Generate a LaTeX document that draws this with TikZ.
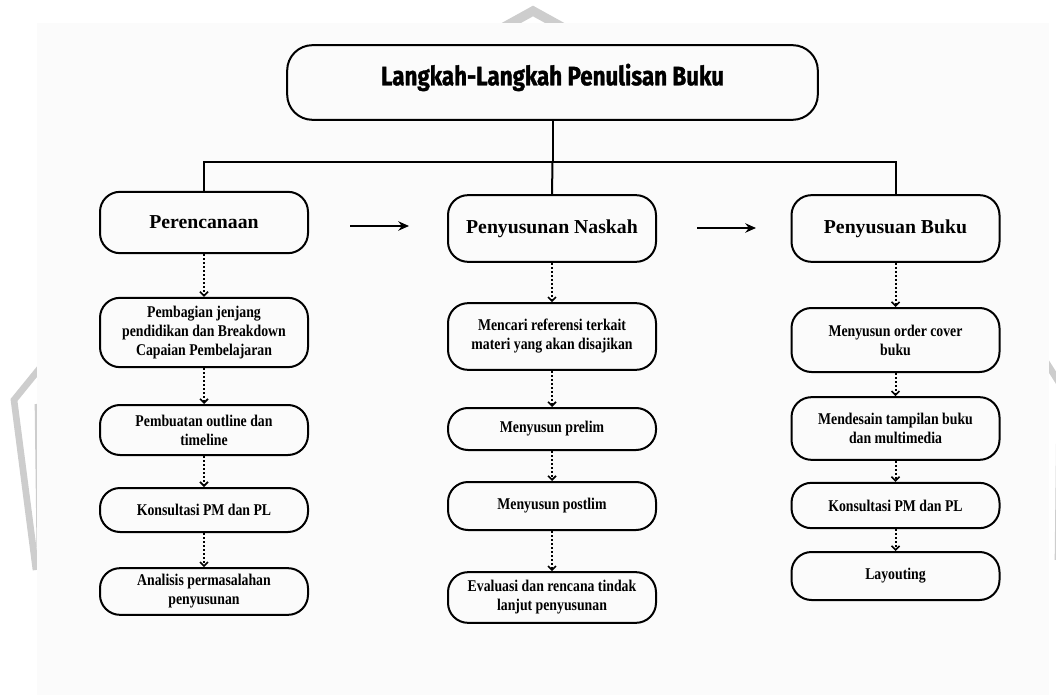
\documentclass[tikz,border=0pt]{standalone}
\usepackage{fontspec}
\setmainfont{Liberation Serif}
\newfontfamily\titlefont[FakeStretch=0.84,FakeBold=1.2]{Fira Sans}
\newfontfamily\stepfont[FakeStretch=0.84]{Liberation Serif}
\usetikzlibrary{arrows.meta}

\definecolor{panelgray}{RGB}{251,251,251}
\definecolor{markgray}{RGB}{205,205,205}

\tikzset{every picture/.style={line width=0.75pt}}
\tikzset{
  stepbox/.style={draw, line width=1.5pt, rounded corners=15pt, minimum width=156pt,
    align=center, inner sep=2pt, font=\stepfont\bfseries\fontsize{12.3}{14.3}\selectfont},
  headbox/.style={stepbox, font=\bfseries\fontsize{14.8}{18}\selectfont},
  dotarrow/.style={line width=1.5pt, dash pattern=on 1.5pt off 1.5pt,
    -{Straight Barb[length=3pt,width=6pt,line width=1.2pt]}},
  flowarrow/.style={line width=1.5pt, -{Stealth[length=8pt,width=7pt]}},
}

\begin{document}
\begin{tikzpicture}[x=0.75pt,y=0.75pt,yscale=-1,xscale=1]
	\clip (0,0) rectangle (1056,695);

	%Watermark [faint logo behind the panel]
	\draw [markgray, line width=7pt, line join=miter] (495,32) -- (533,11) -- (571,32) ;
	\draw [markgray, line width=5pt] (40,368) -- (14,400) -- (36,570) ;
	\draw [markgray, line width=2pt] (36,404) -- (38,560) ;
	\draw [markgray, line width=5pt] (1046,362) -- (1060,384) -- (1058,560) ;
	%Shape: Rectangle [panel]
	\fill [panelgray] (37,23) rectangle (1049,695) ;

	% Title
	\node [draw, line width=1.5pt, rounded corners=19pt, minimum width=398pt, minimum height=56pt,
	  text depth=12pt, font=\titlefont\bfseries\fontsize{20}{22}\selectfont]
	  (title) at (552.5,82.5) {Langkah-Langkah Penulisan Buku};

	% Stage nodes
	\node [headbox, minimum height=46pt] (plan) at (204,222.5) {Perencanaan};
	\node [headbox, minimum height=50pt] (naskah) at (552,228.5) {Penyusunan Naskah};
	\node [headbox, minimum height=50pt] (buku) at (895.5,228.5) {Penyusuan Buku};

	% Perencanaan steps
	\node [stepbox, minimum height=52pt] (planA) at (204,332.5) {Pembagian jenjang\\pendidikan dan Breakdown\\Capaian Pembelajaran};
	\node [stepbox, minimum height=37.5pt] (planB) at (204,430) {Pembuatan outline dan\\timeline};
	\node [stepbox, minimum height=33pt] (planC) at (204,510) {Konsultasi PM dan PL};
	\node [stepbox, minimum height=35pt] (planD) at (204,591.5) {Analisis permasalahan\\penyusunan};

	% Penyusunan Naskah steps
	\node [stepbox, minimum height=50pt] (naskahA) at (552,336.5) {Mencari referensi terkait\\materi yang akan disajikan};
	\node [stepbox, minimum height=31.5pt] (naskahB) at (552,429) {Menyusun prelim};
	\node [stepbox, minimum height=36pt] (naskahC) at (552,506) {Menyusun postlim};
	\node [stepbox, minimum height=38pt] (naskahD) at (552,597.5) {Evaluasi dan rencana tindak\\lanjut penyusunan};

	% Penyusuan Buku steps
	\node [stepbox, minimum height=48pt] (bukuA) at (895.5,340) {Menyusun order cover\\buku};
	\node [stepbox, minimum height=47pt] (bukuB) at (895.5,428.5) {Mendesain tampilan buku\\dan multimedia};
	\node [stepbox, minimum height=34pt] (bukuC) at (895.5,505.5) {Konsultasi PM dan PL};
	\node [stepbox, minimum height=36pt] (bukuD) at (895.5,576) {Layouting};

	%Straight Lines [tree]
	\coordinate (bar) at (552.5,162) ;
	\draw [line width=1.5pt] (title.south) -- (bar) ;
	\draw [line width=1.5pt] (plan.north) |- (bar) -| (buku.north) ;
	\draw [line width=1.5pt] (bar) -- (naskah.north) ;

	%Straight Lines [flow arrows]
	\coordinate (flowA) at (350,226) ;
	\coordinate (flowB) at (409,226) ;
	\coordinate (flowC) at (697,228) ;
	\coordinate (flowD) at (756,228) ;
	\draw [flowarrow] (flowA) -- (flowB) ;
	\draw [flowarrow] (flowC) -- (flowD) ;

	%Dotted arrows
	\draw [dotarrow] (plan) -- (planA) ;
	\draw [dotarrow] (planA) -- (planB) ;
	\draw [dotarrow] (planB) -- (planC) ;
	\draw [dotarrow] (planC) -- (planD) ;
	\draw [dotarrow] (naskah) -- (naskahA) ;
	\draw [dotarrow] (naskahA) -- (naskahB) ;
	\draw [dotarrow] (naskahB) -- (naskahC) ;
	\draw [dotarrow] (naskahC) -- (naskahD) ;
	\draw [dotarrow] (buku) -- (bukuA) ;
	\draw [dotarrow] (bukuA) -- (bukuB) ;
	\draw [dotarrow] (bukuB) -- (bukuC) ;
	\draw [dotarrow] (bukuC) -- (bukuD) ;

\end{tikzpicture}
\end{document}
